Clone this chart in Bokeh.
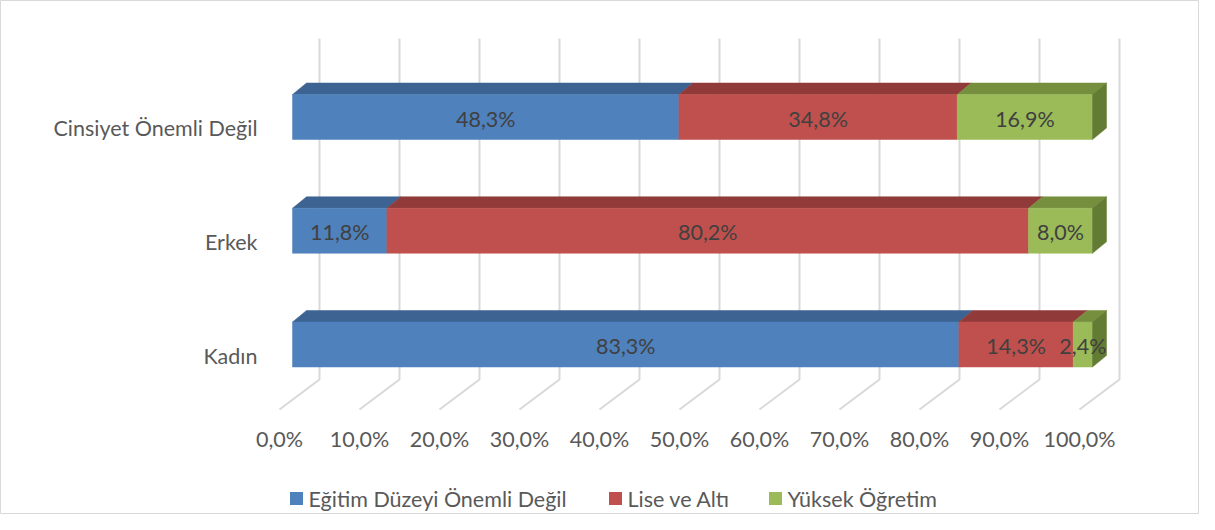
from bokeh.plotting import figure
from bokeh.models import Range1d
from bokeh.embed import file_html
from bokeh.resources import INLINE
from bokeh.core.properties import value

# ---------------- data ----------------
categories = ["Kadın", "Erkek", "Cinsiyet Önemli Değil"]  # bottom -> top
series_names = ["Eğitim Düzeyi Önemli Değil", "Lise ve Altı", "Yüksek Öğretim"]
egitim_onemli_degil = [83.3, 11.8, 48.3]
lise_ve_alti = [14.3, 80.2, 34.8]
yuksek_ogretim = [2.4, 8.0, 16.9]
tick_values = [0, 10, 20, 30, 40, 50, 60, 70, 80, 90, 100]
tick_labels = ["0,0%", "10,0%", "20,0%", "30,0%", "40,0%", "50,0%",
               "60,0%", "70,0%", "80,0%", "90,0%", "100,0%"]

# ---------------- styles ----------------
front_colors = ["#4f81bd", "#c0504d", "#9bbb59"]
top_colors = ["#3c6391", "#903b39", "#768f3e"]
side_color = "#637c33"
grid_color = "#d9d9d9"
text_color = "#595959"
label_color = "#404040"
FONT = "Lato"
FS = "21.5px"

W, H = 1199, 514
PX = 8.0            # pixels per percent unit
ROW = 113.75        # pixels between category rows
Y0 = 344            # pixel y of bottom row centre


def fy(py):
    """pixel y (from top) -> data y (row units)."""
    return (Y0 - py) / ROW


x0 = -292 / PX
p = figure(width=W, height=H, output_backend="svg", toolbar_location=None,
           x_range=Range1d(x0, x0 + W / PX), y_range=Range1d(fy(H), fy(0)),
           min_border=0, outline_line_color="#d9d9d9", outline_line_width=1)
p.axis.visible = False
p.grid.visible = False
p.background_fill_color = "white"

# 3D geometry (in data units)
back_dx = 27 / PX
floor_dx = -13 / PX
bar_dx = 14 / PX
bar_dy = 11.5 / ROW
half_h = 22.5 / ROW
wall_top = fy(38)
wall_bot = fy(379)
floor_front = fy(409)

# back wall gridlines + floor diagonals
xs, ys = [], []
for t in tick_values:
    xs.append([t + back_dx, t + back_dx, t + floor_dx])
    ys.append([wall_top, wall_bot, floor_front])
p.multi_line(xs, ys, line_color=grid_color, line_width=2)

# tick labels
p.text(x=[t + floor_dx for t in tick_values], y=[fy(438)] * len(tick_values),
       text=tick_labels, text_align="center", text_baseline="middle",
       text_font=value(FONT), text_font_size=FS, text_color=text_color)

# bars
series = [egitim_onemli_degil, lise_ve_alti, yuksek_ogretim]
lab_x, lab_y, lab_t = [], [], []
for ci, cat in enumerate(categories):
    yc = ci
    yb, yt = yc - half_h, yc + half_h
    left = 0.0
    for si, vals in enumerate(series):
        v = vals[ci]
        right = left + v
        # top face
        p.patch([left, right, right + bar_dx, left + bar_dx],
                [yt, yt, yt + bar_dy, yt + bar_dy],
                fill_color=top_colors[si], line_color=top_colors[si], line_width=0.5)
        # front face
        p.quad(left=[left], right=[right], bottom=[yb], top=[yt],
               fill_color=front_colors[si], line_color=front_colors[si], line_width=0.5)
        if si == len(series) - 1:
            p.patch([right, right + bar_dx, right + bar_dx, right],
                    [yt, yt + bar_dy, yb + bar_dy, yb],
                    fill_color=side_color, line_color=side_color, line_width=0.5)
        lab_x.append((left + right) / 2)
        lab_y.append(yc - 1.5 / ROW)
        lab_t.append(f"{v:.1f}%".replace(".", ","))
        left = right

p.text(x=lab_x, y=lab_y, text=lab_t, text_align="center", text_baseline="middle",
       text_font=value(FONT), text_font_size=FS, text_color=label_color)

# category labels
p.text(x=[-35 / PX] * len(categories), y=[i - 11 / ROW for i in range(len(categories))],
       text=categories, text_align="right", text_baseline="middle",
       text_font=value(FONT), text_font_size=FS, text_color=text_color)

# legend
leg_sq_x = [(296 - 292) / PX, (615 - 292) / PX, (775 - 292) / PX]
leg_tx_x = [(308 - 292) / PX, (627 - 292) / PX, (787 - 292) / PX]
leg_y = fy(498)
p.rect(x=leg_sq_x, y=[leg_y] * 3, width=13, height=13,
       width_units="screen", height_units="screen",
       fill_color=front_colors, line_color=None)
p.text(x=leg_tx_x, y=[leg_y] * 3, text=series_names, text_align="left",
       text_baseline="middle", text_font=value(FONT), text_font_size=FS,
       text_color=text_color)

open("out.html", "w").write(file_html(p, INLINE))
